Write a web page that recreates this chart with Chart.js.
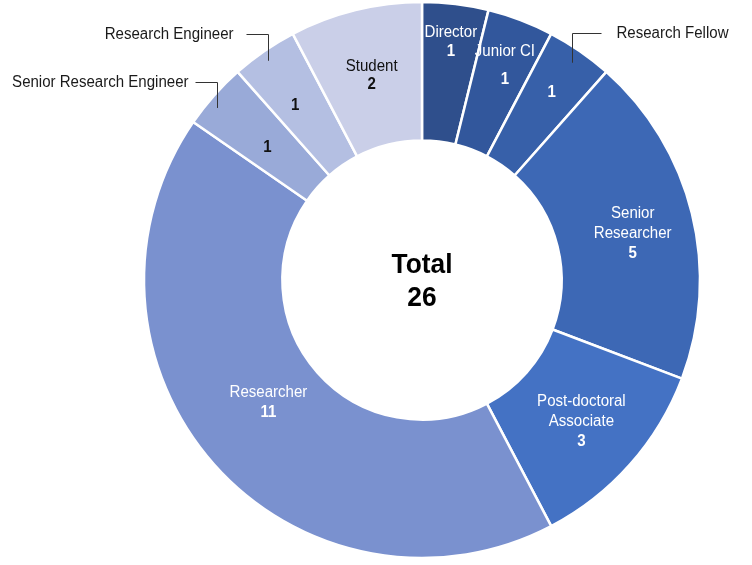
<!DOCTYPE html>
<html>
<head>
<meta charset="utf-8">
<script src="https://cdn.jsdelivr.net/npm/chart.js@4"></script>
<style>
  html, body { margin: 0; padding: 0; background: #fff; }
  #wrap { width: 752px; height: 565px; }
</style>
</head>
<body>
<div id="wrap"><canvas id="staffChart" width="752" height="565"></canvas></div>
<script>
// data
const roles = ['Director', 'Junior CI', 'Research Fellow', 'Senior Researcher', 'Post-doctoral Associate',
  'Researcher', 'Senior Research Engineer', 'Research Engineer', 'Student'];
const headcount = [1, 1, 1, 5, 3, 11, 1, 1, 2];
const centerTitle = 'Total';

// looks
const sliceColors = ['#2F4F8C', '#32579C', '#3760A9', '#3D68B5', '#4472C4',
  '#7A91CF', '#99AAD8', '#B4BFE2', '#CACFE8'];
const FONT = '"Liberation Sans", Arial, sans-serif';
const SQUEEZE = 0.94; // text in the original is a bit narrow

// how each slice is labelled: lines of the name, where inside the ring (f = share of ring
// width, da = nudge in degrees), text colour; ext = label outside with an elbow leader line
const labelStyle = [
  { lines: ['Director'], f: 0.72, da: 0, gap: 19, color: '#fff' },
  { lines: ['Junior CI'], f: 0.65, da: 0.4, gap: 28, color: '#fff' },
  { lines: [], f: 0.64, da: 0, color: '#fff', ext: { r: 264, da: 0, rise: 30, run: 29, pad: 15, side: 1 } },
  { lines: ['Senior', 'Researcher'], f: 0.55, da: 1.5, gap: 20, color: '#fff' },
  { lines: ['Post-doctoral', 'Associate'], f: 0.53, da: 0, gap: 20, color: '#fff' },
  { lines: ['Researcher'], f: 0.41, da: 3, gap: 20, color: '#fff' },
  { lines: [], f: 0.46, da: -1, color: '#111', ext: { r: 268, da: -1.6, rise: 26, run: 22, pad: 7, side: -1 } },
  { lines: [], f: 0.55, da: -1.4, color: '#111', ext: { r: 268, da: -0.5, rise: 27, run: 22, pad: 13, side: -1 } },
  { lines: ['Student'], f: 0.51, da: 0, gap: 18, color: '#111' }
];

function txt(ctx, s, x, y, size, bold, align) {
  ctx.save();
  ctx.translate(x, y);
  ctx.scale(SQUEEZE, 1);
  ctx.font = (bold ? 'bold ' : '') + size + 'px ' + FONT;
  ctx.textAlign = align || 'center';
  ctx.textBaseline = 'middle';
  ctx.fillText(s, 0, 0);
  ctx.restore();
}

const sliceLabels = {
  id: 'sliceLabels',
  afterDatasetsDraw(chart) {
    const ctx = chart.ctx;
    const arcs = chart.getDatasetMeta(0).data;
    const deg = Math.PI / 180;
    ctx.save();
    arcs.forEach((arc, i) => {
      const p = arc.getProps(['x', 'y', 'startAngle', 'endAngle', 'innerRadius', 'outerRadius'], true);
      const mid = (p.startAngle + p.endAngle) / 2;
      const st = labelStyle[i];
      const a = mid + st.da * deg;
      const r = p.innerRadius + st.f * (p.outerRadius - p.innerRadius);
      const cx = p.x + Math.cos(a) * r;
      const cy = p.y + Math.sin(a) * r;
      const lines = st.lines.concat([String(headcount[i])]);
      const gap = st.gap || 20;
      const top = cy - (lines.length - 1) * gap / 2;
      ctx.fillStyle = st.color;
      lines.forEach((ln, k) => {
        txt(ctx, ln, cx, top + k * gap, 16, k === lines.length - 1);
      });

      if (st.ext) {
        const e = st.ext;
        const ea = mid + e.da * deg;
        const sx = Math.round(p.x + Math.cos(ea) * e.r) + 0.5;
        const sy = p.y + Math.sin(ea) * e.r;
        const ey = Math.round(sy - e.rise) + 0.5;
        const ex = sx + e.side * e.run;
        ctx.strokeStyle = '#333';
        ctx.lineWidth = 1;
        ctx.beginPath();
        ctx.moveTo(sx, sy);
        ctx.lineTo(sx, ey);
        ctx.lineTo(ex, ey);
        ctx.stroke();
        ctx.fillStyle = '#1a1a1a';
        txt(ctx, roles[i], ex + e.side * e.pad, ey, 16, false, e.side > 0 ? 'left' : 'right');
      }
    });

    // center total
    const c = arcs[0];
    const total = headcount.reduce((a, b) => a + b, 0);
    ctx.fillStyle = '#000';
    txt(ctx, centerTitle, c.x, c.y - 15, 28, true);
    txt(ctx, String(total), c.x, c.y + 18, 28, true);
    ctx.restore();
  }
};

const ctx = document.getElementById('staffChart').getContext('2d');
const staffChart = new Chart(ctx, {
  type: 'doughnut',
  data: {
    labels: roles,
    datasets: [{
      data: headcount,
      backgroundColor: sliceColors,
      borderColor: '#ffffff',
      borderWidth: 2.5,
      hoverOffset: 0
    }]
  },
  options: {
    responsive: false,
    animation: false,
    radius: 278,
    cutout: 140,
    layout: { padding: { left: 92, right: 0, top: 0, bottom: 5 } },
    plugins: {
      legend: { display: false },
      tooltip: { enabled: false }
    }
  },
  plugins: [sliceLabels]
});
</script>
</body>
</html>
